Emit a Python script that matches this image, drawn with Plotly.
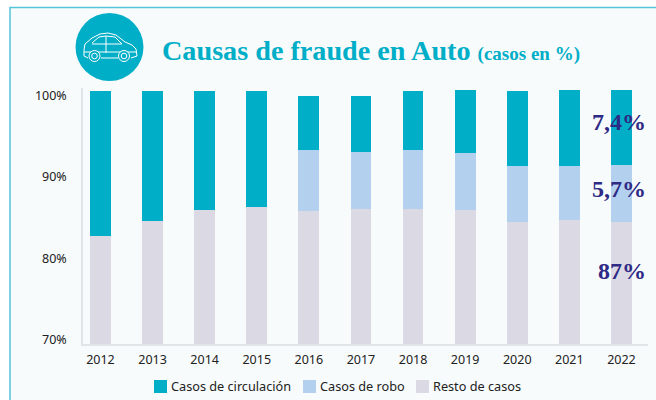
import plotly.graph_objects as go

years = ["2012","2013","2014","2015","2016","2017","2018","2019","2020","2021","2022"]
resto = [82.7,84.6,85.9,86.3,85.8,86.0,86.0,85.9,84.5,84.7,84.5]
robo = [0,0,0,0,7.5,7.05,7.3,7.0,6.8,6.6,7.0]
circulacion = [17.85,15.95,14.65,14.25,6.7,6.9,7.25,7.8,9.25,9.4,9.2]
callouts = ["7,4%","5,7%","87%"]
y_ticks = [70,80,90,100]
y_labels = ["70%","80%","90%","100%"]
series_names = ["Casos de circulación","Casos de robo","Resto de casos"]
series_colors = ["#00aec7","#b3d0ef","#dbd9e4"]

TEAL = series_colors[0]
L, R, T, B = 83, 648, 88, 344
def px(x): return (x - L) / (R - L)
def py(y): return (B - y) / (B - T)
def path(pts, close=False):
    s = "M" + " L".join(f"{px(a):.5f},{py(b):.5f}" for a, b in pts)
    return s + (" Z" if close else "")

fig = go.Figure()
fig.add_bar(name=series_names[2], x=years, y=resto, marker_color=series_colors[2], marker_line_width=0)
fig.add_bar(name=series_names[1], x=years, y=robo, marker_color=series_colors[1], marker_line_width=0)
fig.add_bar(name=series_names[0], x=years, y=circulacion, marker_color=series_colors[0], marker_line_width=0)

shapes = [
    dict(type="rect", xref="paper", yref="paper", x0=px(10), x1=px(670), y0=py(7.5), y1=py(420),
         fillcolor="#f8fbfc", line=dict(color="#55c3d8", width=1.5), layer="below"),
    dict(type="circle", xref="paper", yref="paper", x0=px(75.5), x1=px(143.5), y0=py(13), y1=py(81),
         fillcolor=TEAL, line_width=0),
]
white = dict(color="white", width=1)
car = [
    [(84,50),(85,44),(92,38),(100,34),(108,33),(116,35),(125,42),(132,45),(136,49),(137,56),(131,58)],
    [(118,58),(101,58)],
    [(88,58),(84,56),(84,50)],
    [(92,43),(99,37),(106,36),(115,37),(122,44),(92,44)],
    [(106,36),(106,53)],
    [(84,52),(137,52)],
]
for c in car:
    shapes.append(dict(type="path", xref="paper", yref="paper", path=path(c), line=white))
for cx in (94.5, 124):
    for r in (5.5, 2.8):
        shapes.append(dict(type="circle", xref="paper", yref="paper", x0=px(cx-r), x1=px(cx+r),
                           y0=py(56+r), y1=py(56-r), line=white, fillcolor=TEAL))

ann = [
    dict(x=px(159.5), y=py(50), xref="paper", yref="paper", xanchor="left", yanchor="middle", showarrow=False,
         text="<b><span style='font-size:28.2px'>Causas de fraude en Auto</span>"
              " <span style='font-size:19px'>(casos en %)</span></b>",
         font=dict(family="Liberation Serif", color=TEAL, size=28.2)),
]
for label, yy in zip(callouts, (122, 189, 271)):
    ann.append(dict(x=px(648), y=py(yy), xref="paper", yref="paper", xanchor="right", yanchor="middle",
                    showarrow=False, text=f"<b>{label}</b>",
                    font=dict(family="Liberation Serif", color="#2e2a85", size=24)))
for name, color, sx in zip(series_names, series_colors, (154, 303, 416)):
    shapes.append(dict(type="rect", xref="paper", yref="paper", x0=px(sx), x1=px(sx+13), y0=py(380), y1=py(393),
                       fillcolor=color, line_width=0))
    ann.append(dict(x=px(sx+15), y=py(386), xref="paper", yref="paper", xanchor="left", yanchor="middle",
                    showarrow=False, text=name, font=dict(size=12.7, color="#222222")))

fig.update_layout(
    width=656, height=400, barmode="stack", bargap=0.6, showlegend=False,
    margin=dict(l=L, r=656-R, t=T, b=400-B, pad=0, autoexpand=False),
    paper_bgcolor="white", plot_bgcolor="rgba(0,0,0,0)",
    font=dict(family="Noto Sans", size=12.5, color="#222222"),
    shapes=shapes, annotations=ann,
    xaxis=dict(type="category", range=[-0.335, 10.51], showline=True, linecolor="#e2e5e8", linewidth=1.5,
               ticks="", showgrid=False, automargin=False, ticklabelstandoff=3, tickfont=dict(size=12.5)),
    yaxis=dict(range=[69.45, 100.94], tickvals=y_ticks, ticktext=y_labels, showgrid=False, zeroline=False,
               showline=True, linecolor="#e2e5e8", linewidth=1.5, ticks="", ticklabelstandoff=12,
               automargin=False, tickfont=dict(size=12.5)),
)
fig.write_html("out.html", config={"displayModeBar": False}, post_script="document.body.style.margin='0';")
